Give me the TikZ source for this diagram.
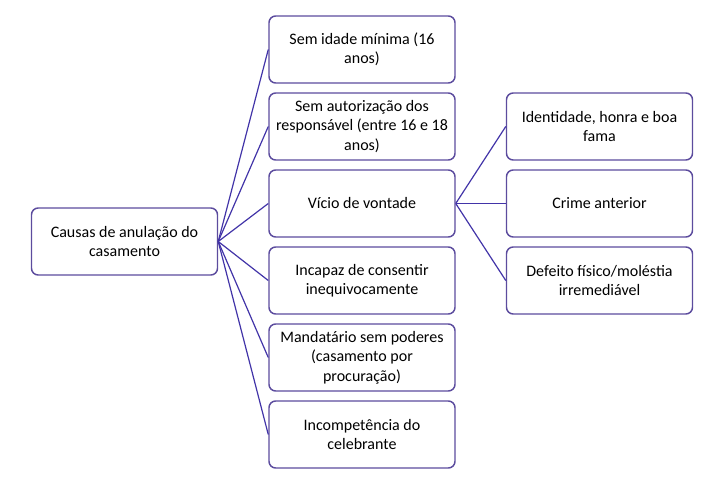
\documentclass[tikz,border=0pt]{standalone}
\usepackage{fontspec}
\setmainfont{Carlito}
\usepackage{xcolor}
\usepackage{tikz}
\usetikzlibrary{positioning}
\definecolor{boxline}{RGB}{92,76,158}
\definecolor{linkline}{RGB}{66,52,168}
\tikzset{
  causa/.style={draw=boxline, line width=1.1pt, rounded corners=5pt, fill=white,
    minimum width=139.5pt, minimum height=50.25pt, align=center,
    font={\fontsize{12}{14.5}\selectfont}}, % Kästen
  ramo/.style={draw=linkline, line width=0.9pt} % Verbindungslinien
}

\begin{document}
\begin{tikzpicture}[x=0.75pt, y=-0.75pt, node distance=6.4pt]
\useasboundingbox (0,0) rectangle (711,481);

%Wurzel
\node[causa] (raiz) at (124.5,241.5) {Causas de anula\c{c}\~ao do\\casamento};

%mittlere Spalte
\node[causa] (m1) at (362,49.5) {Sem idade m\'inima (16\\anos)};
\node[causa, below=of m1] (m2) {Sem autoriza\c{c}\~ao dos\\respons\'avel (entre 16 e 18\\anos)};
\node[causa, below=of m2] (m3) {V\'icio de vontade};
\node[causa, below=of m3] (m4) {Incapaz de consentir\\inequivocamente};
\node[causa, below=of m4] (m5) {Mandat\'ario sem poderes\\(casamento por\\procura\c{c}\~ao)};
\node[causa, below=of m5] (m6) {Incompet\^encia do\\celebrante};

%rechte Spalte
\node[causa] (v1) at (599.5,126.5) {Identidade, honra e boa\\fama};
\node[causa, below=of v1] (v2) {Crime anterior};
\node[causa, below=of v2] (v3) {Defeito f\'isico/mol\'estia\\irremedi\'avel};

%Verbindungen
\foreach \k in {1,...,6}
  \draw[ramo] (raiz.east) -- (m\k.west);
\foreach \k in {1,2,3}
  \draw[ramo] (m3.east) -- (v\k.west);

\end{tikzpicture}
\end{document}
